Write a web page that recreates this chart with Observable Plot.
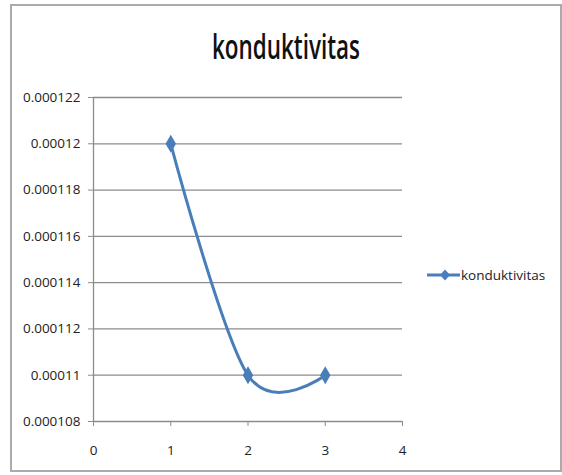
<!DOCTYPE html>
<html>
<head>
<meta charset="utf-8">
<script src="https://cdn.jsdelivr.net/npm/d3@7"></script>
<script src="https://cdn.jsdelivr.net/npm/@observablehq/plot@0.6"></script>
<style>
  html, body { margin: 0; padding: 0; background: #fff; }
  #wrap { position: relative; width: 562px; height: 475px; font-family: "Open Sans", sans-serif; }
  #frame { position: absolute; left: 10px; top: 4px; width: 552px; height: 468px; border: 2px solid #ababab; box-sizing: border-box; }
  #title { position: absolute; left: 86px; width: 400px; top: 23px; text-align: center; font-family: "Open Sans", sans-serif; font-size: 34px; font-weight: 600; color: #111; transform: scaleX(0.66); transform-origin: 200px 0; line-height: 46px; white-space: nowrap; }
  #legend { position: absolute; left: 425px; top: 264px; display: flex; align-items: center; font-size: 13.5px; color: #222; }
  #chart { position: absolute; left: 0; top: 0; }
</style>
</head>
<body>
<div id="wrap">
  <div id="frame"></div>
  <div id="chart"></div>
  <div id="title"></div>
  <div id="legend"></div>
</div>
<script>
const seriesName = "konduktivitas";
const xValues = [1, 2, 3];
const yValues = [0.00012, 0.00011, 0.00011];
const xTicks = [0, 1, 2, 3, 4];
const yTicks = [0.000108, 0.00011, 0.000112, 0.000114, 0.000116, 0.000118, 0.00012, 0.000122];

const data = xValues.map((x, i) => ({x, y: yValues[i]}));
const color = "#4a7ebb";
const grid = "#8c8c8c";
const fmt = d => String(+d.toFixed(6));

const chart = Plot.plot({
  width: 562,
  height: 475,
  marginLeft: 93,
  marginRight: 160,
  marginTop: 97,
  marginBottom: 54,
  style: {fontFamily: "Open Sans, sans-serif", fontSize: "13.5px", color: "#222", background: "transparent"},
  x: {domain: [0, 4], label: null},
  y: {domain: [0.000108, 0.000122], label: null},
  marks: [
    Plot.gridY(yTicks, {stroke: grid, strokeOpacity: 1, strokeWidth: 1.3}),
    Plot.ruleX([0], {stroke: grid, strokeWidth: 1.3}),
    Plot.axisY(yTicks, {tickSize: 5, tickPadding: 8, tickFormat: fmt, stroke: grid, fill: "#222", fontSize: 13.5}),
    Plot.axisX(xTicks, {tickSize: 5, tickPadding: 19, stroke: grid, fill: "#222", fontSize: 13.5}),
    Plot.line(data, {x: "x", y: "y", curve: "cardinal", stroke: color, strokeWidth: 3}),
    Plot.dot(data, {x: "x", y: "y", symbol: "diamond", r: 5.5, fill: color, stroke: "none"})
  ]
});
document.getElementById("chart").appendChild(chart);
document.getElementById("title").textContent = seriesName;
document.getElementById("legend").innerHTML =
  `<svg width="36" height="22"><line x1="2" y1="11" x2="35" y2="11" stroke="${color}" stroke-width="3"/><path d="M20,5.5L25,11L20,16.5L15,11Z" fill="${color}"/></svg><span>${seriesName}</span>`;
</script>
</body>
</html>
